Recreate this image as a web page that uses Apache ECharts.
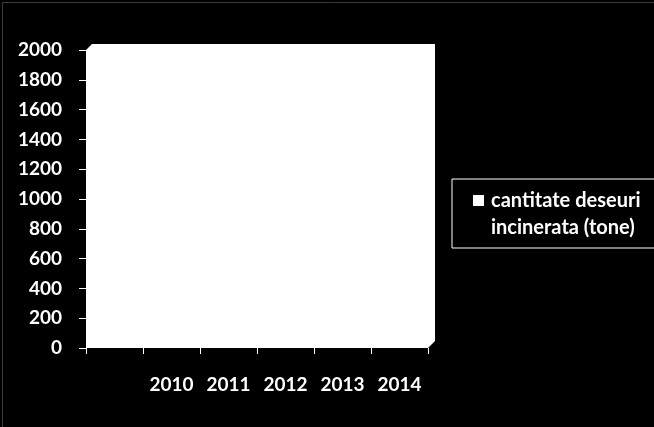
<!DOCTYPE html>
<html>
<head>
<meta charset="utf-8">
<script src="https://cdn.jsdelivr.net/npm/echarts@6/dist/echarts.min.js"></script>
<style>
html,body{margin:0;padding:0;background:#000;}
#c{width:654px;height:427px;}
</style>
</head>
<body>
<div id="c"></div>
<script>
var categories = ["", "2010", "2011", "2012", "2013", "2014"];
var seriesName = "cantitate deseuri incinerata (tone)";
var values = [null, 0, 0, 0, 0, 0];
var yMin = 0, yMax = 2000, yStep = 200;

var chart = echarts.init(document.getElementById('c'));
var font = 'Lato';
chart.setOption({
  backgroundColor: '#000',
  animation: false,
  graphic: [
    { type: 'rect', left: 0, top: 0, shape: { width: 653, height: 426 },
      style: { fill: 'none', stroke: '#3a3a3a', lineWidth: 1 }, silent: true, z: -10 },
    { type: 'polygon', shape: { points: [[86,348],[86,50],[92,44],[435,44],[435,341],[428,348]] },
      style: { fill: '#fff' }, silent: true, z: -5 }
  ],
  grid: { left: 86, right: 226, top: 50, bottom: 79 },
  legend: {
    left: 452, top: 179,
    padding: [8, 17, 7, 21],
    borderColor: '#fff', borderWidth: 1,
    itemWidth: 11, itemHeight: 38,
    icon: 'path://M0,0L11,0L11,11L0,11Z M0,38L0.01,38L0.01,37.99Z',
    formatter: function () { return 'cantitate deseuri\nincinerata (tone)'; },
    textStyle: { color: '#fff', fontFamily: font, fontWeight: 'bold', fontSize: 20, lineHeight: 27, padding: [0,0,0,2] },
    data: [{ name: seriesName, itemStyle: { color: '#fff' } }]
  },
  xAxis: {
    type: 'category',
    data: categories,
    axisLine: { show: false },
    axisTick: { show: true, interval: 0, length: 6, lineStyle: { color: '#fff', width: 1 } },
    axisLabel: { color: '#fff', fontFamily: font, fontWeight: 'bold', fontSize: 19, margin: 27,
      interval: 0, hideOverlap: false }
  },
  yAxis: {
    type: 'value', min: yMin, max: yMax, interval: yStep,
    axisLine: { show: false },
    axisTick: { show: true, length: 7, lineStyle: { color: '#fff', width: 1 } },
    splitLine: { show: false },
    axisLabel: { color: '#fff', fontFamily: font, fontWeight: 'bold', fontSize: 19, margin: 24,
      formatter: function (v) { return String(v); } }
  },
  series: [{
    name: seriesName, type: 'bar', data: values,
    itemStyle: { color: '#fff' }
  }]
});
</script>
</body>
</html>
